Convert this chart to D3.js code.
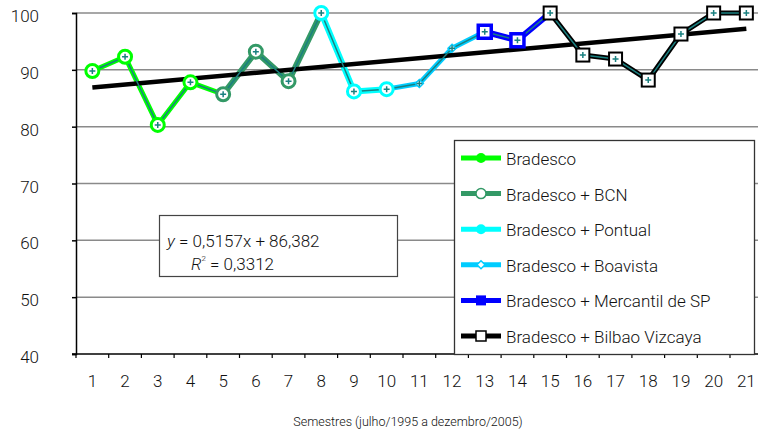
<!DOCTYPE html>
<html><head><meta charset="utf-8">
<script src="https://cdn.jsdelivr.net/npm/d3@7"></script>
<style>body{margin:0;background:#fff}svg{display:block;font-family:Roboto,"Open Sans",sans-serif;font-weight:300}</style>
</head><body><svg id="c" width="758" height="437"></svg>
<script>
// ---- data ----
const semesters = [1,2,3,4,5,6,7,8,9,10,11,12,13,14,15,16,17,18,19,20,21];
const values = [89.8,92.3,80.3,87.8,85.7,93.2,88.0,100,86.2,86.6,87.6,93.8,96.7,95.2,100,92.6,91.9,88.2,96.3,100,100];
const seriesNames = ["Bradesco","Bradesco + BCN","Bradesco + Pontual","Bradesco + Boavista","Bradesco + Mercantil de SP","Bradesco + Bilbao Vizcaya"];
const seriesLineRange = [[1,5],[5,8],[8,10],[10,13],[13,15],[15,21]];
const seriesMarkerRange = [[1,4],[5,7],[8,10],[11,12],[13,14],[15,21]];
const yTicks = [40,50,60,70,80,90,100];
const trendSlope = 0.5157, trendIntercept = 86.382;
const equationText = "= 0,5157x + 86,382";
const r2Text = "= 0,3312";
const xTitle = "Semestres (julho/1995 a dezembro/2005)";

// ---- styles ----
const seriesColor = ["#00ff00","#339966","#00ffff","#00ccff","#0000ff","#000000"];
const seriesWidth = [5,6,6,5,6,5];
const seriesMarker = ["circleFilled","circleOpen","circleFilled","diamondOpen","squareFilled","squareOpen"];

const svg = d3.select("#c");
const x = d3.scaleLinear().domain([0.5,21.5]).range([76,762.7]);
const y = d3.scaleLinear().domain([40,100]).range([354,13]);

// gridlines
svg.append("g").selectAll("line").data(yTicks.filter(d=>d>40)).join("line")
  .attr("x1",76).attr("x2",762.7).attr("y1",d=>y(d)).attr("y2",d=>y(d))
  .attr("stroke","#8a8a8a").attr("stroke-width",1.5);

// y axis
const yAxis = svg.append("g").attr("transform","translate(76,0)")
  .call(d3.axisLeft(y).tickValues(yTicks).tickSize(4).tickPadding(33));
yAxis.select(".domain").attr("stroke","#000").attr("stroke-width",1.5);
yAxis.selectAll(".tick line").attr("stroke","#000").attr("stroke-width",1.5);
yAxis.selectAll("text").attr("font-size",17).attr("fill","#111").attr("font-family","Roboto").attr("font-weight",300).attr("dy","0.5em");

// x axis
const xb = svg.append("g").attr("transform","translate(0,354)");
xb.append("line").attr("x1",72).attr("x2",762.7).attr("y1",0).attr("y2",0).attr("stroke","#000").attr("stroke-width",1.5);
xb.selectAll("line.tk").data(d3.range(0,22)).join("line").attr("class","tk")
  .attr("x1",d=>x(d+0.5)).attr("x2",d=>x(d+0.5)).attr("y1",0).attr("y2",4)
  .attr("stroke","#000").attr("stroke-width",1.2);
xb.selectAll("text").data(semesters).join("text")
  .attr("x",d=>x(d)).attr("y",33).attr("text-anchor","middle")
  .attr("font-size",17).attr("fill","#111").text(d=>d);

svg.append("text").attr("x",408).attr("y",426).attr("text-anchor","middle")
  .attr("font-size",12.5).attr("fill","#111").text(xTitle);

const pt = i => [x(semesters[i-1]), y(values[i-1])];
const line = d3.line();

// series lines
seriesLineRange.forEach((r,k)=>{
  const pts = d3.range(r[0],r[1]+1).map(pt);
  svg.append("path").attr("d",line(pts)).attr("fill","none")
    .attr("stroke",seriesColor[k]).attr("stroke-width",seriesWidth[k]).attr("stroke-linejoin","round");
});

// trend line
svg.append("line")
  .attr("x1",x(1)).attr("y1",y(trendSlope*1+trendIntercept))
  .attr("x2",x(21)).attr("y2",y(trendSlope*21+trendIntercept))
  .attr("stroke","#000").attr("stroke-width",4.5);

// thin teal overall line
svg.append("path").attr("d",line(semesters.map((s,i)=>pt(i+1)))).attr("fill","none")
  .attr("stroke","#1a8080").attr("stroke-width",1.5);

function marker(g, type, color, cx, cy, s){
  if(type.startsWith("circle")){
    g.append("circle").attr("cx",cx).attr("cy",cy).attr("r",s)
      .attr("fill", "#fff").attr("stroke",color).attr("stroke-width",3);
  } else if(type.startsWith("square")){
    g.append("rect").attr("x",cx-s).attr("y",cy-s).attr("width",2*s).attr("height",2*s)
      .attr("fill","#fff").attr("stroke",color).attr("stroke-width",type==="squareFilled"?3.5:2);
  } else {
    g.append("path").attr("d",`M${cx},${cy-s}L${cx+s},${cy}L${cx},${cy+s}L${cx-s},${cy}Z`)
      .attr("fill","#fff").attr("stroke",color).attr("stroke-width",1.5);
  }
}
function legendMarker(g, type, color, cx, cy, s){
  if(type==="circleFilled") g.append("circle").attr("cx",cx).attr("cy",cy).attr("r",s).attr("fill",color);
  else if(type==="circleOpen") g.append("circle").attr("cx",cx).attr("cy",cy).attr("r",s).attr("fill","#fff").attr("stroke",color).attr("stroke-width",1.5);
  else if(type==="squareFilled") g.append("rect").attr("x",cx-s).attr("y",cy-s).attr("width",2*s).attr("height",2*s).attr("fill",color);
  else if(type==="squareOpen") g.append("rect").attr("x",cx-s).attr("y",cy-s).attr("width",2*s).attr("height",2*s).attr("fill","#fff").attr("stroke",color).attr("stroke-width",1.5);
  else g.append("path").attr("d",`M${cx},${cy-s}L${cx+s},${cy}L${cx},${cy+s}L${cx-s},${cy}Z`).attr("fill","#fff").attr("stroke",color).attr("stroke-width",1.5);
}

// markers
const mg = svg.append("g");
seriesMarkerRange.forEach((r,k)=>{
  d3.range(r[0],r[1]+1).forEach(i=>{
    const [cx,cy]=pt(i);
    const s = seriesMarker[k]==="diamondOpen"?4:6.5;
    marker(mg, seriesMarker[k], seriesColor[k], cx, cy, s);
  });
});
// teal plus markers
semesters.forEach((s,i)=>{
  const [cx,cy]=pt(i+1);
  mg.append("path").attr("d",`M${cx-3},${cy}H${cx+3}M${cx},${cy-3}V${cy+3}`)
    .attr("stroke","#1a8080").attr("stroke-width",1.5).attr("fill","none");
});

// equation box
const eq = svg.append("g");
eq.append("rect").attr("x",159.5).attr("y",215.5).attr("width",238).attr("height",61)
  .attr("fill","#fff").attr("stroke","#444").attr("stroke-width",1.2);
const t1 = eq.append("text").attr("x",167).attr("y",247).attr("font-size",17).attr("fill","#111");
t1.append("tspan").attr("font-style","italic").text("y");
t1.append("tspan").text(" "+equationText);
const t2 = eq.append("text").attr("x",191).attr("y",270).attr("font-size",17).attr("fill","#111");
t2.append("tspan").attr("font-style","italic").text("R");
t2.append("tspan").attr("font-size",8).attr("dy",-9).text("2");
t2.append("tspan").attr("dy",9).text(" "+r2Text);

// legend
const lg = svg.append("g");
lg.append("rect").attr("x",454.5).attr("y",140.5).attr("width",300).attr("height",214)
  .attr("fill","#fff").attr("stroke","#333").attr("stroke-width",1.3);
seriesNames.forEach((n,k)=>{
  const cy = 160 + k*35.6;
  lg.append("line").attr("x1",461).attr("x2",501).attr("y1",cy-2).attr("y2",cy-2)
    .attr("stroke",seriesColor[k]).attr("stroke-width",5);
  legendMarker(lg, seriesMarker[k], seriesColor[k], 481, cy-2, seriesMarker[k]==="diamondOpen"?4:5);
  lg.append("text").attr("x",506).attr("y",cy+5).attr("font-size",17).attr("fill","#111").text(n);
});
</script></body></html>
